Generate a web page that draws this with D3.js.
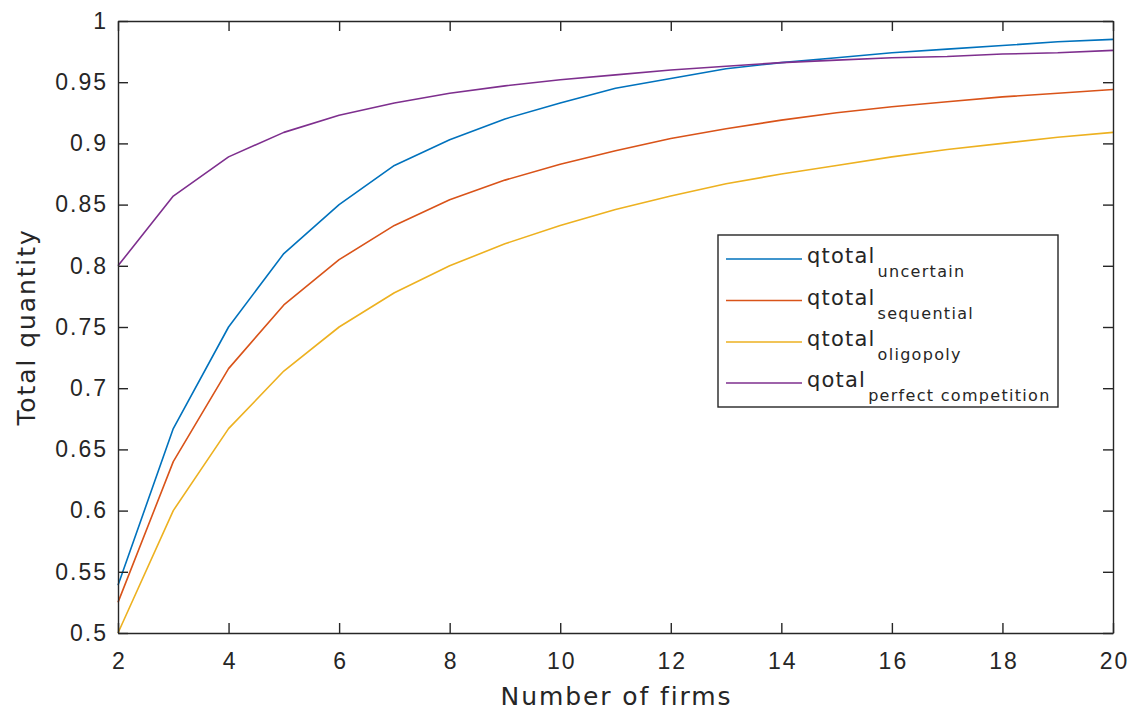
<!DOCTYPE html>
<html>
<head>
<meta charset="utf-8">
<script src="https://cdn.jsdelivr.net/npm/d3@7"></script>
<style>
  html, body { margin: 0; padding: 0; background: #fff; }
  svg { display: block; font-family: "DejaVu Sans", sans-serif; }
</style>
</head>
<body>
<svg id="chart" width="1131" height="710"></svg>
<script>
// Number of firms on the horizontal axis
const firms = [2, 3, 4, 5, 6, 7, 8, 9, 10, 11, 12, 13, 14, 15, 16, 17, 18, 19, 20];

// Total quantity under each market structure
const qUncertain   = [0.539, 0.667, 0.750, 0.810, 0.850, 0.882, 0.903, 0.920, 0.933, 0.945, 0.953, 0.961, 0.966, 0.970, 0.974, 0.977, 0.980, 0.983, 0.985];
const qSequential  = [0.525, 0.640, 0.716, 0.768, 0.805, 0.833, 0.854, 0.870, 0.883, 0.894, 0.904, 0.912, 0.919, 0.925, 0.930, 0.934, 0.938, 0.941, 0.944];
const qOligopoly   = [0.500, 0.600, 0.667, 0.714, 0.750, 0.778, 0.800, 0.818, 0.833, 0.846, 0.857, 0.867, 0.875, 0.882, 0.889, 0.895, 0.900, 0.905, 0.909];
const qPerfect     = [0.800, 0.857, 0.889, 0.909, 0.923, 0.933, 0.941, 0.947, 0.952, 0.956, 0.960, 0.963, 0.966, 0.968, 0.970, 0.971, 0.973, 0.974, 0.976];

const xTicks = [2, 4, 6, 8, 10, 12, 14, 16, 18, 20];
const yTicks = [0.5, 0.55, 0.6, 0.65, 0.7, 0.75, 0.8, 0.85, 0.9, 0.95, 1];

const seriesNames = ["qtotal", "qtotal", "qtotal", "qotal"];
const seriesSubs  = ["uncertain", "sequential", "oligopoly", "perfect competition"];
const seriesColors = ["#0072BD", "#D95319", "#EDB120", "#7E2F8E"];
const seriesValues = [qUncertain, qSequential, qOligopoly, qPerfect];

const svg = d3.select("#chart");
const plot = { left: 118, right: 1113, top: 21, bottom: 633 };
const axisColor = "#262626";

const x = d3.scaleLinear().domain([2, 20]).range([plot.left, plot.right]);
const y = d3.scaleLinear().domain([0.5, 1]).range([plot.bottom, plot.top]);

// Data lines
const line = d3.line().x((d, i) => x(firms[i])).y(d => y(d));
svg.append("g").selectAll("path")
  .data(seriesValues)
  .join("path")
  .attr("d", d => line(d))
  .attr("fill", "none")
  .attr("stroke", (d, i) => seriesColors[i])
  .attr("stroke-width", 1.6)
  .attr("stroke-linejoin", "round");

// Axes with inward ticks on all four sides
const fmtY = d => String(+d.toFixed(2));
function styleAxis(g) {
  g.select(".domain").attr("stroke", axisColor).attr("stroke-width", 1.4);
  g.selectAll(".tick line").attr("stroke", axisColor).attr("stroke-width", 1.4);
  g.selectAll(".tick text")
    .attr("fill", axisColor)
    .style("font-size", "23px")
    .style("letter-spacing", "2px");
}

const gx = svg.append("g").attr("transform", `translate(0,${plot.bottom})`)
  .call(d3.axisBottom(x).tickValues(xTicks).tickSizeInner(-10).tickSizeOuter(0).tickPadding(20));
styleAxis(gx);
gx.selectAll(".tick text").attr("dx", "1px");

const gxTop = svg.append("g").attr("transform", `translate(0,${plot.top})`)
  .call(d3.axisTop(x).tickValues(xTicks).tickSizeInner(-10).tickSizeOuter(0).tickFormat(""));
styleAxis(gxTop);

const gy = svg.append("g").attr("transform", `translate(${plot.left},0)`)
  .call(d3.axisLeft(y).tickValues(yTicks).tickSizeInner(-10).tickSizeOuter(0).tickPadding(12).tickFormat(fmtY));
styleAxis(gy);
gy.selectAll(".tick text").attr("dx", "2px");

const gyRight = svg.append("g").attr("transform", `translate(${plot.right},0)`)
  .call(d3.axisRight(y).tickValues(yTicks).tickSizeInner(-10).tickSizeOuter(0).tickFormat(""));
styleAxis(gyRight);

// Axis titles
svg.append("text")
  .attr("x", (plot.left + plot.right) / 2 + 1)
  .attr("y", 705)
  .attr("text-anchor", "middle")
  .attr("fill", axisColor)
  .style("font-size", "25px")
  .style("letter-spacing", "1.9px")
  .text("Number of firms");

svg.append("text")
  .attr("transform", `translate(35,${(plot.top + plot.bottom) / 2}) rotate(-90)`)
  .attr("text-anchor", "middle")
  .attr("fill", axisColor)
  .style("font-size", "25px")
  .style("letter-spacing", "1.9px")
  .text("Total quantity");

// Legend
const legend = svg.append("g");
legend.append("rect")
  .attr("x", 718).attr("y", 235)
  .attr("width", 340).attr("height", 172)
  .attr("fill", "#fff")
  .attr("stroke", axisColor)
  .attr("stroke-width", 1.4);

const rowY = [259, 300.5, 342, 383];
const rows = legend.selectAll("g.row")
  .data(seriesNames)
  .join("g")
  .attr("class", "row")
  .attr("transform", (d, i) => `translate(0,${rowY[i]})`);

rows.append("line")
  .attr("x1", 726).attr("x2", 802)
  .attr("y1", 0).attr("y2", 0)
  .attr("stroke", (d, i) => seriesColors[i])
  .attr("stroke-width", 1.6);

const label = rows.append("text")
  .attr("x", 807)
  .attr("y", 4)
  .attr("fill", axisColor)
  .style("font-size", "21px")
  .style("letter-spacing", "1.2px");
label.append("tspan").text(d => d);
label.append("tspan")
  .attr("dy", 14)
  .attr("dx", 2)
  .style("font-size", "16px")
  .style("letter-spacing", "1.3px")
  .text((d, i) => seriesSubs[i]);
</script>
</body>
</html>
